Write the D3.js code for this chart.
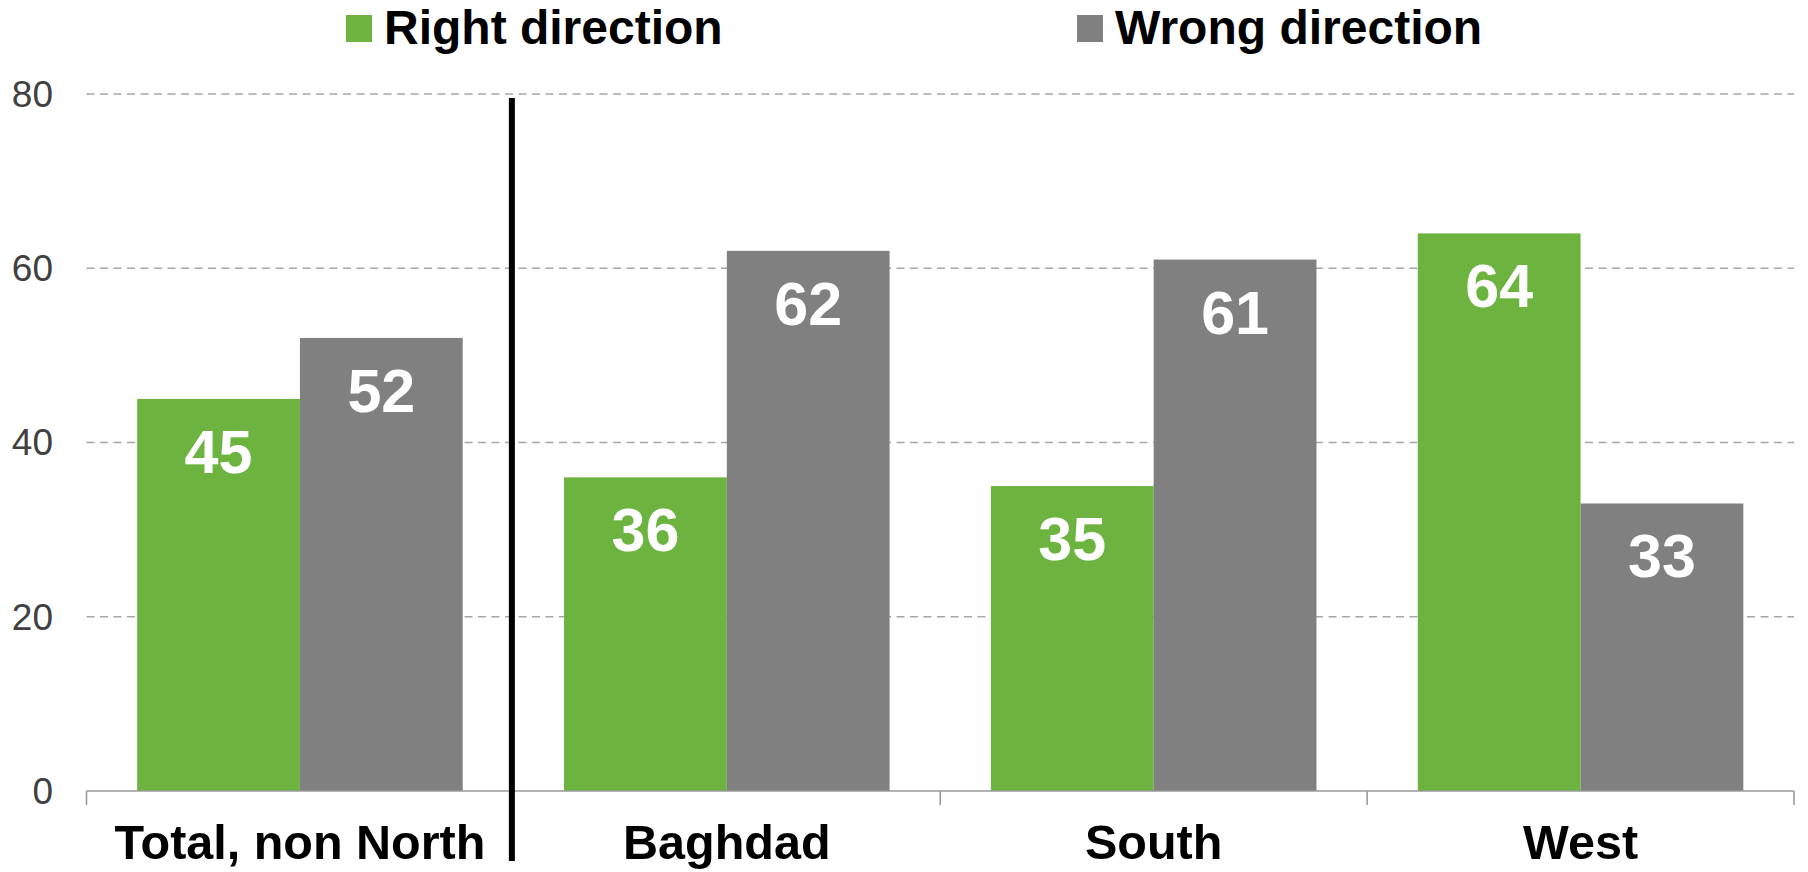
<!DOCTYPE html>
<html>
<head>
<meta charset="utf-8">
<script src="https://cdn.jsdelivr.net/npm/d3@7"></script>
<style>
    body { margin: 0; background: #fff; }
    svg text { font-family: "Liberation Sans", Arial, sans-serif; }
</style>
</head>
<body>
<div id="chart"></div>
<script>
// Data
var categories = ["Total, non North", "Baghdad", "South", "West"];
var seriesNames = ["Right direction", "Wrong direction"];
var rightValues = [45, 36, 35, 64];
var wrongValues = [52, 62, 61, 33];
var yTicks = [0, 20, 40, 60, 80];

var colors = { "Right direction": "#6db33f", "Wrong direction": "#808080" };

var W = 1808, H = 872;
var margin = {top: 94, right: 14, bottom: 81, left: 86.5};

var svg = d3.select("#chart")
    .append("svg")
    .attr("width", W)
    .attr("height", H);

// scales
var x0 = d3.scaleBand()
    .domain(categories)
    .range([margin.left, W - margin.right])
    .paddingInner(0)
    .paddingOuter(0);

var bw = x0.bandwidth();
var x1 = d3.scaleBand()
    .domain(seriesNames)
    .range([bw * 0.1187, bw * (1 - 0.1187)])
    .padding(0);

var y = d3.scaleLinear()
    .domain([0, 80])
    .range([H - margin.bottom, margin.top]);

// gridlines (dashed)
svg.append("g")
    .selectAll("line")
    .data(yTicks.filter(function (t) { return t > 0; }))
    .enter()
    .append("line")
    .attr("x1", margin.left)
    .attr("x2", W - margin.right)
    .attr("y1", function (d) { return y(d); })
    .attr("y2", function (d) { return y(d); })
    .attr("stroke", "#a6a6a6")
    .attr("stroke-width", 1.4)
    .attr("stroke-dasharray", "8,5.5");

// y tick labels
svg.append("g")
    .selectAll("text")
    .data(yTicks)
    .enter()
    .append("text")
    .attr("x", 53)
    .attr("y", function (d) { return y(d); })
    .attr("dy", "0.35em")
    .attr("text-anchor", "end")
    .style("font-size", "37px")
    .style("fill", "#404040")
    .text(function (d) { return d; });

// bars
var rows = categories.map(function (c, i) {
    return {cat: c, vals: [
        {name: seriesNames[0], value: rightValues[i]},
        {name: seriesNames[1], value: wrongValues[i]}
    ]};
});

var groups = svg.append("g")
    .selectAll("g")
    .data(rows)
    .enter()
    .append("g")
    .attr("transform", function (d) { return "translate(" + x0(d.cat) + ",0)"; });

groups.selectAll("rect")
    .data(function (d) { return d.vals; })
    .enter()
    .append("rect")
    .attr("x", function (d) { return x1(d.name); })
    .attr("y", function (d) { return y(d.value); })
    .attr("width", x1.bandwidth())
    .attr("height", function (d) { return y(0) - y(d.value); })
    .attr("fill", function (d) { return colors[d.name]; });

// value labels inside bars
groups.selectAll("text")
    .data(function (d) { return d.vals; })
    .enter()
    .append("text")
    .attr("x", function (d) { return x1(d.name) + x1.bandwidth() / 2; })
    .attr("y", function (d) { return y(d.value) + 74; })
    .attr("text-anchor", "middle")
    .style("font-size", "61px")
    .style("font-weight", "bold")
    .style("fill", "#fff")
    .text(function (d) { return d.value; });

// x axis line + ticks
var axisY = y(0);
svg.append("line")
    .attr("x1", margin.left)
    .attr("x2", W - margin.right)
    .attr("y1", axisY)
    .attr("y2", axisY)
    .attr("stroke", "#9a9a9a")
    .attr("stroke-width", 1.6);

var tickXs = categories.map(function (c) { return x0(c); }).concat([x0.range()[1]]);
svg.append("g")
    .selectAll("line")
    .data(tickXs)
    .enter()
    .append("line")
    .attr("x1", function (d) { return d; })
    .attr("x2", function (d) { return d; })
    .attr("y1", axisY)
    .attr("y2", axisY + 14)
    .attr("stroke", "#9a9a9a")
    .attr("stroke-width", 1.6);

// category labels
svg.append("g")
    .selectAll("text")
    .data(categories)
    .enter()
    .append("text")
    .attr("x", function (d) { return x0(d) + bw / 2; })
    .attr("y", 859)
    .attr("text-anchor", "middle")
    .style("font-size", "48.5px")
    .style("font-weight", "bold")
    .style("fill", "#000")
    .text(function (d) { return d; });

// divider between total and regions
var divX = x0(categories[1]) - 1.5;
svg.append("line")
    .attr("x1", divX)
    .attr("x2", divX)
    .attr("y1", 98)
    .attr("y2", 861)
    .attr("stroke", "#000")
    .attr("stroke-width", 6);

// legend
var legendX = [346, 1077];
var legend = svg.append("g")
    .selectAll("g")
    .data(seriesNames)
    .enter()
    .append("g")
    .attr("transform", function (d, i) { return "translate(" + legendX[i] + ",0)"; });

legend.append("rect")
    .attr("x", 0)
    .attr("y", 15)
    .attr("width", 26)
    .attr("height", 27)
    .attr("fill", function (d) { return colors[d]; });

legend.append("text")
    .attr("x", 38)
    .attr("y", 44)
    .style("font-size", "48px")
    .style("font-weight", "bold")
    .style("fill", "#000")
    .text(function (d) { return d; });
</script>
</body>
</html>
